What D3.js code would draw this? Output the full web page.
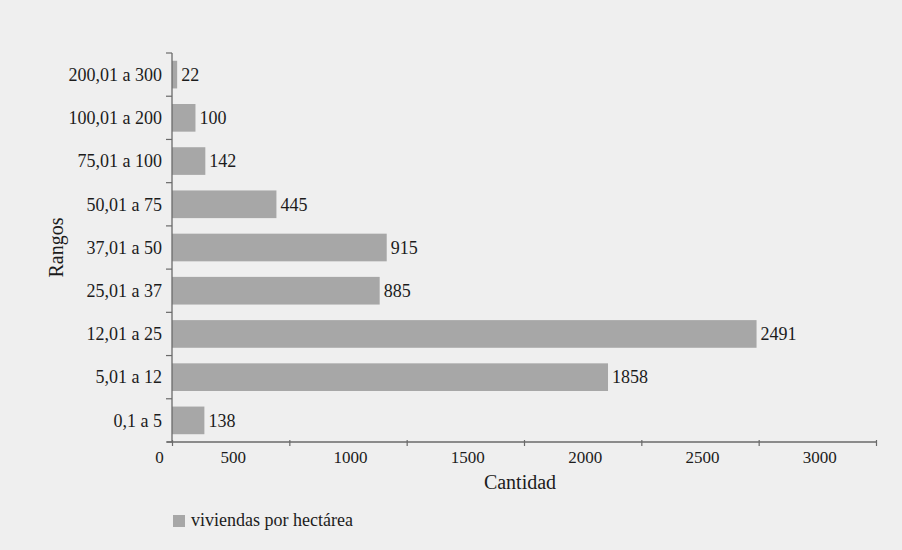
<!DOCTYPE html>
<html>
<head>
<meta charset="utf-8">
<script src="https://cdn.jsdelivr.net/npm/d3@7"></script>
<style>
  html, body { margin: 0; padding: 0; background: #efefef; }
  svg { display: block; }
  text { font-family: "Liberation Serif", "Times New Roman", serif; fill: #1c1c1c; }
</style>
</head>
<body>
<svg id="chart" width="902" height="550"></svg>
<script>
// Ranges of dwellings per hectare, listed top to bottom
const categories = ["200,01 a 300", "100,01 a 200", "75,01 a 100", "50,01 a 75",
                    "37,01 a 50", "25,01 a 37", "12,01 a 25", "5,01 a 12", "0,1 a 5"];
const values = [22, 100, 142, 445, 915, 885, 2491, 1858, 138];
const xTicks = [0, 500, 1000, 1500, 2000, 2500, 3000];
const seriesName = "viviendas por hectárea";
const xTitle = "Cantidad";
const yTitle = "Rangos";

const svg = d3.select("#chart");
const barColor = "#a7a7a7";
const axisColor = "#6a6a6a";

const plotLeft = 172, plotRight = 876, plotTop = 53, plotBottom = 442;

const x = d3.scaleLinear().domain([0, 3000]).range([plotLeft, plotRight]);
const y = d3.scaleBand().domain(categories).range([plotTop, plotBottom])
  .paddingInner(0.36).paddingOuter(0.18);

// Bars
svg.append("g").selectAll("rect")
  .data(categories)
  .join("rect")
  .attr("x", x(0))
  .attr("y", d => y(d))
  .attr("width", (d, i) => x(values[i]) - x(0))
  .attr("height", y.bandwidth())
  .attr("fill", barColor);

// Value labels
svg.append("g").selectAll("text")
  .data(categories)
  .join("text")
  .attr("x", (d, i) => x(values[i]) + 4)
  .attr("y", d => y(d) + y.bandwidth() / 2)
  .attr("dy", "0.35em")
  .attr("font-size", 18)
  .text((d, i) => values[i]);

// Y axis: line with ticks on band boundaries, labels centred on bands
const step = y.step();
const boundaries = d3.range(categories.length + 1).map(i => plotTop + i * step);
const yAxis = svg.append("g");
yAxis.append("line")
  .attr("x1", plotLeft).attr("x2", plotLeft)
  .attr("y1", plotTop).attr("y2", plotBottom)
  .attr("stroke", axisColor).attr("stroke-width", 1.3);
yAxis.selectAll("line.tick")
  .data(boundaries)
  .join("line")
  .attr("class", "tick")
  .attr("x1", plotLeft - 6).attr("x2", plotLeft)
  .attr("y1", d => d).attr("y2", d => d)
  .attr("stroke", axisColor).attr("stroke-width", 1.2);
yAxis.selectAll("text")
  .data(categories)
  .join("text")
  .attr("x", plotLeft - 10)
  .attr("y", d => y(d) + y.bandwidth() / 2)
  .attr("dy", "0.35em")
  .attr("text-anchor", "end")
  .attr("font-size", 18)
  .text(d => d);

// X axis
const xAxis = svg.append("g")
  .attr("transform", `translate(0,${plotBottom})`)
  .call(d3.axisBottom(x).tickValues(xTicks).tickSize(4).tickSizeOuter(0).tickFormat(d3.format("d")));
xAxis.select(".domain")
  .attr("d", `M${plotLeft - 5},0H${plotRight}`)
  .attr("stroke", axisColor).attr("stroke-width", 1.3);
xAxis.selectAll(".tick line")
  .attr("y1", -2).attr("y2", 4)
  .attr("stroke", axisColor).attr("stroke-width", 1.2);
const halfStep = (x(500) - x(0)) / 2;
xAxis.selectAll(".tick text")
  .attr("x", d => d === 0 ? -13 : -halfStep + 2)
  .attr("y", 9)
  .attr("font-size", 17)
  .attr("font-family", "Liberation Serif, serif")
  .attr("fill", "#1c1c1c");

// Axis titles
svg.append("text")
  .attr("x", (plotLeft + plotRight) / 2 - 4)
  .attr("y", 489)
  .attr("text-anchor", "middle")
  .attr("font-size", 20)
  .text(xTitle);
svg.append("text")
  .attr("transform", `translate(63,${(plotTop + plotBottom) / 2}) rotate(-90)`)
  .attr("text-anchor", "middle")
  .attr("font-size", 20)
  .text(yTitle);

// Legend
const legend = svg.append("g").attr("transform", "translate(173,515)");
legend.append("rect").attr("width", 12).attr("height", 12).attr("fill", barColor);
legend.append("text")
  .attr("x", 18).attr("y", 11)
  .attr("font-size", 18)
  .text(seriesName);
</script>
</body>
</html>
